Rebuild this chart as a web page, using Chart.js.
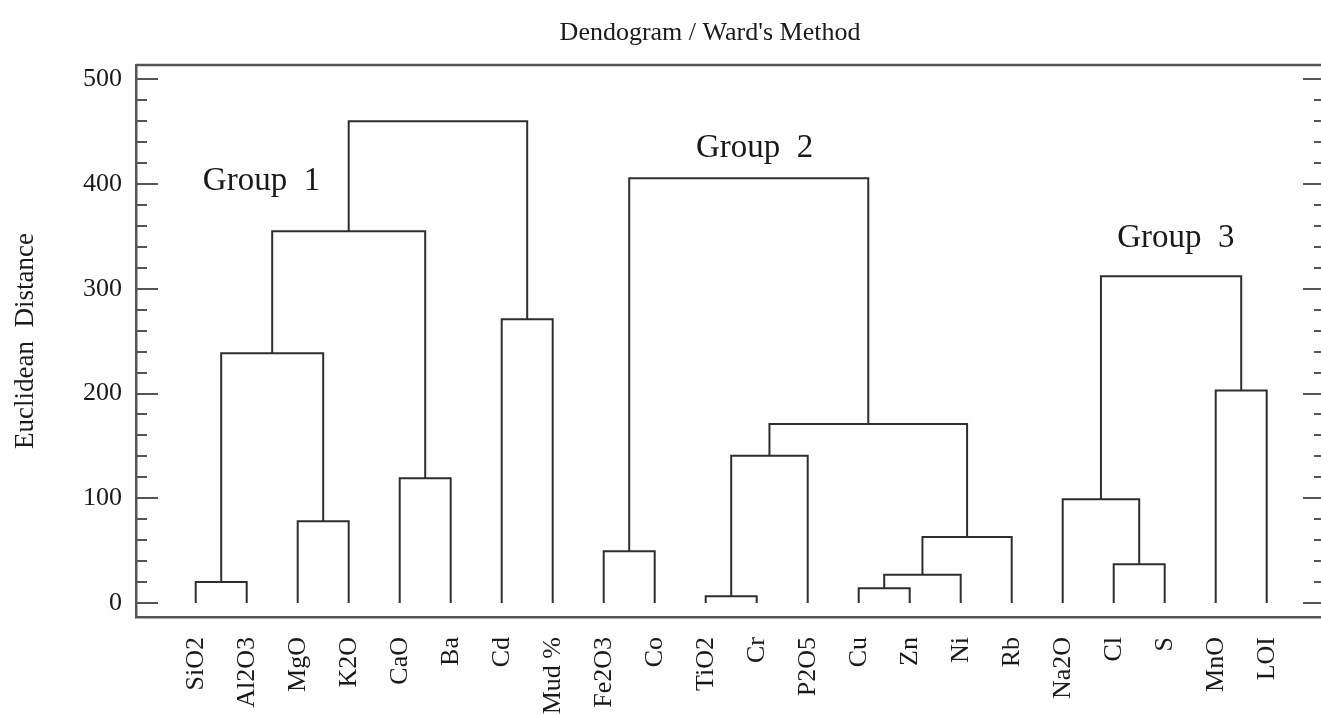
<!DOCTYPE html>
<html><head><meta charset="utf-8">
<script src="https://cdn.jsdelivr.net/npm/chart.js@4.4.1/dist/chart.umd.min.js"></script>
<style>html,body{margin:0;padding:0;overflow:hidden;background:#fff}</style>
</head><body>
<canvas id="c" width="1330" height="715"></canvas>
<script>
// ---------- data ----------
const leafLabels = ['SiO2','Al2O3','MgO','K2O','CaO','Ba','Cd','Mud %','Fe2O3','Co','TiO2','Cr','P2O5','Cu','Zn','Ni','Rb','Na2O','Cl','S','MnO','LOI'];
// merges: children are leaf names or '#n' = result of merge n
const mergeLeft   = ['SiO2','MgO','#0','CaO','#2','Cd','#4','Fe2O3','TiO2','#8','Cu','#10','#11','#9','#7','Cl','Na2O','MnO','#16'];
const mergeRight  = ['Al2O3','K2O','#1','Ba','#3','Mud %','#5','Co','Cr','P2O5','Zn','Ni','Rb','#12','#13','S','#15','LOI','#17'];
const mergeHeight = [20, 78, 238.5, 119, 355, 271, 460, 49.5, 6.5, 140.5, 14, 27, 63, 171, 405.5, 37, 99, 203, 312];
const yTickValues = [0, 100, 200, 300, 400, 500];
const yMinorStep = 20;
const groupNames = ['Group  1', 'Group  2', 'Group  3'];
const groupX = [1.29, 10.96, 19.22];
const groupY = [394, 426, 340];
const chartTitle = "Dendogram / Ward's Method";
const yAxisTitle = 'Euclidean  Distance';

// ---------- build dendrogram links ----------
const nodes = [];
function node(ref) {
  if (ref[0] === '#') return nodes[parseInt(ref.slice(1), 10)];
  return { x: leafLabels.indexOf(ref), h: 0 };
}
const datasets = [];
mergeHeight.forEach((h, i) => {
  const a = node(mergeLeft[i]);
  const b = node(mergeRight[i]);
  nodes[i] = { x: (a.x + b.x) / 2, h: h };
  datasets.push({
    data: [{x: a.x, y: a.h}, {x: a.x, y: h}, {x: b.x, y: h}, {x: b.x, y: b.h}],
    borderColor: '#2e2e2e',
    borderWidth: 2,
    pointRadius: 0,
    tension: 0,
    fill: false,
    showLine: true
  });
});

const SERIF = '"Liberation Serif", "Times New Roman", serif';
const axisColor = '#555';
const textColor = '#1a1a1a';

const decor = {
  id: 'decor',
  afterDraw(chart) {
    const {ctx, chartArea: a, scales: {x, y}} = chart;
    ctx.save();
    ctx.strokeStyle = axisColor;
    ctx.lineWidth = 2.5;
    ctx.beginPath();
    ctx.moveTo(a.left, a.top);
    ctx.lineTo(a.right, a.top);
    ctx.lineTo(a.right, a.bottom);
    ctx.stroke();
    ctx.lineWidth = 2;
    const first = yTickValues[0], last = yTickValues[yTickValues.length - 1];
    for (let v = first; v <= last + 1e-9; v += yMinorStep) {
      const py = Math.round(y.getPixelForValue(v));
      const major = yTickValues.includes(v);
      const len = major ? 22 : 11;
      ctx.beginPath();
      ctx.moveTo(a.left, py); ctx.lineTo(a.left + len, py);
      ctx.moveTo(a.right - len, py); ctx.lineTo(a.right, py);
      ctx.stroke();
    }
    ctx.fillStyle = textColor;
    ctx.textAlign = 'center';
    ctx.textBaseline = 'alphabetic';
    ctx.font = '26px ' + SERIF;
    ctx.fillText(chartTitle, 710, 40);
    ctx.font = '33px ' + SERIF;
    groupNames.forEach((g, i) => {
      ctx.fillText(g, x.getPixelForValue(groupX[i]), y.getPixelForValue(groupY[i]));
    });
    ctx.restore();
  }
};

new Chart(document.getElementById('c'), {
  type: 'line',
  data: { datasets },
  plugins: [decor],
  options: {
    responsive: false,
    animation: false,
    layout: { padding: { top: 65, left: 0, right: 5, bottom: 0 } },
    plugins: { legend: { display: false }, tooltip: { enabled: false }, title: { display: false } },
    scales: {
      x: {
        type: 'linear',
        min: -1.1706,
        max: 22.143,
        grid: { display: false, drawTicks: false },
        border: { display: true, color: axisColor, width: 2.5 },
        afterBuildTicks(scale) { scale.ticks = leafLabels.map((_, i) => ({ value: i })); },
        afterFit(scale) { scale.height = 98; },
        ticks: {
          autoSkip: false,
          minRotation: 90,
          maxRotation: 90,
          padding: 20,
          color: textColor,
          font: { family: SERIF, size: 26 },
          callback: (v) => leafLabels[v] !== undefined ? leafLabels[v] : ''
        }
      },
      y: {
        type: 'linear',
        min: -13.4,
        max: 513.7,
        grid: { display: false, drawTicks: false },
        border: { display: true, color: axisColor, width: 2.5 },
        afterBuildTicks(scale) { scale.ticks = yTickValues.map(v => ({ value: v })); },
        afterFit(scale) { scale.width = 136; },
        ticks: {
          padding: 14,
          color: textColor,
          font: { family: SERIF, size: 26 }
        },
        title: {
          display: true,
          text: yAxisTitle,
          color: textColor,
          font: { family: SERIF, size: 27 },
          padding: { top: 10, bottom: 0 }
        }
      }
    }
  }
});
</script>
</body></html>
